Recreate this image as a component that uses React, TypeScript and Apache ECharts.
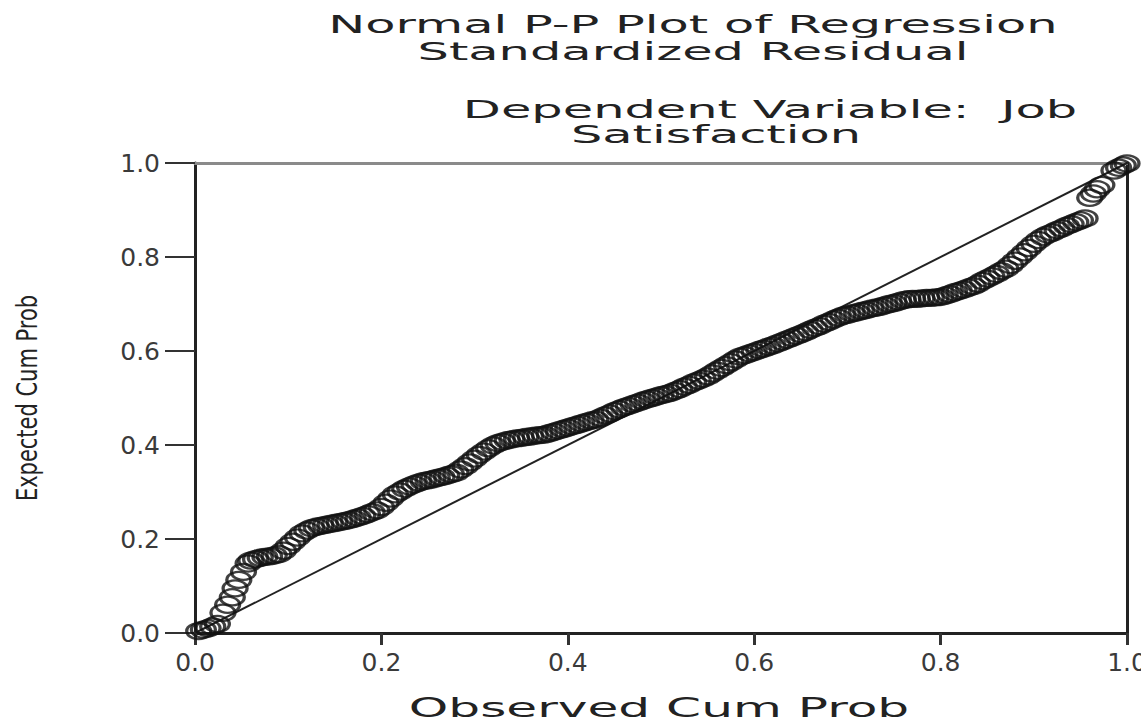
import React, { useEffect, useRef } from "react";
import * as echarts from "echarts";

const titleLines = ["Normal P-P Plot of Regression", "Standardized Residual"];
const subtitleLines = ["Dependent Variable:  Job", "Satisfaction"];
const xAxisName = "Observed Cum Prob";
const yAxisName = "Expected Cum Prob";
const tickValues = [0, 0.2, 0.4, 0.6, 0.8, 1.0];

// Observed cumulative probability (x)
const observedCumProb = [
  0.004, 0.009, 0.014, 0.019, 0.024, 0.030, 0.035, 0.040, 0.043, 0.047, 0.052, 0.057,
  0.060, 0.065, 0.070, 0.075, 0.080, 0.085, 0.090,
  0.095, 0.100, 0.105, 0.110, 0.115, 0.120, 0.125,
  0.130, 0.135, 0.140, 0.145, 0.150, 0.155, 0.160,
  0.165, 0.170, 0.175, 0.180, 0.185, 0.190, 0.195,
  0.200, 0.205, 0.210, 0.215, 0.220, 0.225, 0.230,
  0.235, 0.240, 0.245, 0.250, 0.255, 0.260, 0.265,
  0.270, 0.275, 0.280, 0.285, 0.290, 0.295, 0.300,
  0.305, 0.310, 0.315, 0.320, 0.325, 0.330, 0.335,
  0.340, 0.345, 0.350, 0.355, 0.360, 0.365, 0.370,
  0.375, 0.380, 0.385, 0.390, 0.395, 0.400, 0.405,
  0.410, 0.415, 0.420, 0.425, 0.430, 0.435, 0.440,
  0.445, 0.450, 0.455, 0.460, 0.465, 0.470, 0.475,
  0.480, 0.485, 0.490, 0.495, 0.500, 0.505, 0.510,
  0.515, 0.520, 0.525, 0.530, 0.535, 0.540, 0.545,
  0.550, 0.555, 0.560, 0.565, 0.570, 0.575, 0.580,
  0.585, 0.590, 0.595, 0.600, 0.605, 0.610, 0.615,
  0.620, 0.625, 0.630, 0.635, 0.640, 0.645, 0.650,
  0.655, 0.660, 0.665, 0.670, 0.675, 0.680, 0.685,
  0.690, 0.695, 0.700, 0.705, 0.710, 0.715, 0.720,
  0.725, 0.730, 0.735, 0.740, 0.745, 0.750, 0.755,
  0.760, 0.765, 0.770, 0.775, 0.780, 0.785, 0.790,
  0.795, 0.800, 0.805, 0.810, 0.815, 0.820, 0.825,
  0.830, 0.835, 0.840, 0.845, 0.850, 0.855, 0.860,
  0.865, 0.870, 0.875, 0.880, 0.885, 0.890, 0.895,
  0.900, 0.905, 0.910, 0.915, 0.920, 0.925, 0.930,
  0.935, 0.940, 0.945, 0.950, 0.955,
  0.960, 0.964, 0.968, 0.973, 0.986, 0.991, 0.996, 1.000,
];

// Expected cumulative probability (y)
const expectedCumProb = [
  0.004, 0.007, 0.010, 0.014, 0.019, 0.043, 0.060, 0.076, 0.095, 0.113, 0.130, 0.148,
  0.154, 0.157, 0.160, 0.162, 0.163, 0.165, 0.168,
  0.175, 0.185, 0.194, 0.203, 0.212, 0.218, 0.223,
  0.226, 0.228, 0.230, 0.232, 0.234, 0.236, 0.238,
  0.240, 0.243, 0.246, 0.249, 0.253, 0.257, 0.261,
  0.268, 0.277, 0.286, 0.295, 0.301, 0.307, 0.312,
  0.316, 0.320, 0.323, 0.325, 0.327, 0.330, 0.332,
  0.335, 0.338, 0.341, 0.348, 0.355, 0.363, 0.371,
  0.379, 0.386, 0.393, 0.399, 0.404, 0.407, 0.410,
  0.412, 0.414, 0.415, 0.417, 0.418, 0.420, 0.421,
  0.422, 0.425, 0.428, 0.431, 0.434, 0.437, 0.440,
  0.443, 0.446, 0.449, 0.452, 0.454, 0.458, 0.463,
  0.467, 0.472, 0.476, 0.480, 0.483, 0.487, 0.490,
  0.494, 0.497, 0.500, 0.503, 0.506, 0.508, 0.511,
  0.515, 0.519, 0.524, 0.528, 0.533, 0.537, 0.541,
  0.546, 0.552, 0.558, 0.564, 0.570, 0.576, 0.582,
  0.588, 0.591, 0.595, 0.598, 0.602, 0.605, 0.609,
  0.612, 0.616, 0.620, 0.624, 0.628, 0.632, 0.636,
  0.640, 0.645, 0.649, 0.653, 0.658, 0.662, 0.667,
  0.671, 0.675, 0.677, 0.680, 0.682, 0.685, 0.687,
  0.690, 0.692, 0.694, 0.697, 0.700, 0.702, 0.705,
  0.708, 0.710, 0.711, 0.711, 0.712, 0.713, 0.713,
  0.714, 0.715, 0.718, 0.721, 0.725, 0.728, 0.731,
  0.735, 0.738, 0.743, 0.749, 0.754, 0.759, 0.764,
  0.770, 0.775, 0.783, 0.792, 0.801, 0.810, 0.819,
  0.828, 0.836, 0.843, 0.848, 0.852, 0.857, 0.861,
  0.866, 0.870, 0.874, 0.878, 0.882,
  0.926, 0.935, 0.944, 0.953, 0.984, 0.990, 0.995, 0.999,
];

// Reference (diagonal) line endpoints
const referenceX = [0, 1];
const referenceY = [0, 1];

const FONT = "DejaVu Sans";

function stretchedText(text: string, x: number, y: number, size: number, scaleX: number) {
  return {
    type: "text",
    x,
    y,
    scaleX,
    silent: true,
    style: {
      text,
      fontSize: size,
      fontFamily: FONT,
      fill: "#222",
      align: "center",
      verticalAlign: "middle",
      textAlign: "center",
      textVerticalAlign: "middle",
    },
  };
}

export default function App() {
  const ref = useRef<HTMLDivElement>(null);

  useEffect(() => {
    if (!ref.current) return;
    const chart = echarts.init(ref.current, undefined, { renderer: "svg" });

    const points = observedCumProb.map((x, i) => [x, expectedCumProb[i]]);
    const refLine = referenceX.map((x, i) => [x, referenceY[i]]);

    const labelFmt = (v: number) => (tickValues.includes(v) ? v.toFixed(1) : "");

    chart.setOption({
      animation: false,
      backgroundColor: "#ffffff",
      grid: {
        left: 195,
        right: 14,
        top: 163,
        bottom: 91,
        containLabel: false,
        outerBoundsMode: "none",
      },
      xAxis: [
        {
          type: "value",
          min: 0,
          max: 1,
          interval: 0.2,
          axisLine: { show: true, onZero: false, lineStyle: { color: "#222", width: 3 } },
          axisTick: { show: true, length: 12, lineStyle: { color: "#333", width: 3 } },
          axisLabel: {
            formatter: labelFmt,
            fontFamily: FONT,
            fontSize: 25,
            color: "#3a3a3a",
            margin: 17,
            showMaxLabel: true,
            showMinLabel: true,
          },
          splitLine: { show: false },
        },
        {
          type: "value",
          position: "top",
          min: 0,
          max: 1,
          axisLine: { show: true, onZero: false, lineStyle: { color: "#8a8a8a", width: 3 } },
          axisTick: { show: false },
          axisLabel: { show: false },
          splitLine: { show: false },
        },
      ],
      yAxis: [
        {
          type: "value",
          min: 0,
          max: 1,
          interval: 0.2,
          axisLine: { show: true, onZero: false, lineStyle: { color: "#222", width: 3 } },
          axisTick: { show: true, length: 30, lineStyle: { color: "#333", width: 2 } },
          axisLabel: {
            formatter: labelFmt,
            fontFamily: FONT,
            fontSize: 25,
            color: "#3a3a3a",
            margin: 35,
          },
          splitLine: { show: false },
        },
        {
          type: "value",
          position: "right",
          min: 0,
          max: 1,
          axisLine: { show: true, onZero: false, lineStyle: { color: "#222", width: 3 } },
          axisTick: { show: false },
          axisLabel: { show: false },
          splitLine: { show: false },
        },
      ],
      graphic: [
        stretchedText(titleLines[0], 693, 25, 24, 2.06),
        stretchedText(titleLines[1], 693, 52, 24, 2.06),
        stretchedText(subtitleLines[0], 770, 110, 24, 2.06),
        stretchedText(subtitleLines[1], 716, 135, 24, 2.06),
        stretchedText(xAxisName, 659, 708, 26, 1.93),
        {
          type: "text",
          x: 27,
          y: 398,
          rotation: Math.PI / 2,
          scaleY: 1.33,
          silent: true,
          style: {
            text: yAxisName,
            fontSize: 21,
            fontFamily: FONT,
            fill: "#222",
            align: "center",
            verticalAlign: "middle",
            textAlign: "center",
            textVerticalAlign: "middle",
          },
        },
      ],
      series: [
        {
          type: "line",
          data: refLine,
          xAxisIndex: 0,
          yAxisIndex: 0,
          showSymbol: false,
          symbol: "none",
          silent: true,
          z: 2,
          lineStyle: { color: "#222", width: 2 },
        },
        {
          type: "scatter",
          data: points,
          xAxisIndex: 0,
          yAxisIndex: 0,
          symbol: "circle",
          symbolSize: [24, 16],
          silent: true,
          clip: false,
          z: 3,
          itemStyle: { color: "rgba(0,0,0,0)", borderColor: "#111", borderWidth: 2.7 },
        },
      ],
    });

    return () => chart.dispose();
  }, []);

  return (
    <div
      ref={ref}
      style={{ position: "absolute", left: 0, top: 0, width: 1141, height: 724, background: "#fff" }}
    />
  );
}
